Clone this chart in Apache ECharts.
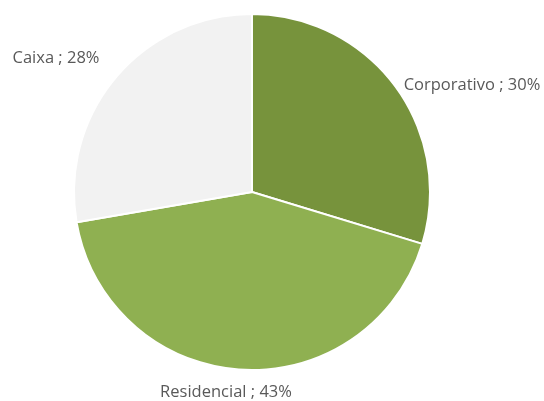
<!DOCTYPE html>
<html><head><meta charset="utf-8">
<script src="https://cdn.jsdelivr.net/npm/echarts@6/dist/echarts.min.js"></script>
<style>html,body{margin:0;padding:0;background:#fff}#c{width:544px;height:401px}</style>
</head><body><div id="c"></div>
<script>
var categories = ["Corporativo", "Residencial", "Caixa"];
var values = [30, 43, 28];
var colors = ["#77933C", "#8FB051", "#F2F2F2"];
var labelPos = [[472, 85], [226, 392], [56, 58]];

var chart = echarts.init(document.getElementById('c'));
chart.setOption({
  animation: false,
  series: [{
    type: 'pie',
    center: [252, 192],
    radius: [0, 178],
    startAngle: 90,
    clockwise: true,
    data: categories.map(function (c, i) {
      return { name: c, value: values[i], itemStyle: { color: colors[i] } };
    }),
    itemStyle: { borderColor: '#ffffff', borderWidth: 2 },
    label: {
      show: true,
      position: 'outside',
      formatter: function (p) { return p.name + ' ; ' + p.value + '%'; },
      fontFamily: 'Open Sans',
      fontSize: 16.5,
      color: '#595959',
      overflow: 'none',
      width: 200
    },
    labelLine: { show: false },
    labelLayout: function (p) {
      var pos = labelPos[p.dataIndex];
      return { x: pos[0], y: pos[1], align: 'center', verticalAlign: 'middle', hideOverlap: false, moveOverlap: false };
    }
  }]
});
</script></body></html>
